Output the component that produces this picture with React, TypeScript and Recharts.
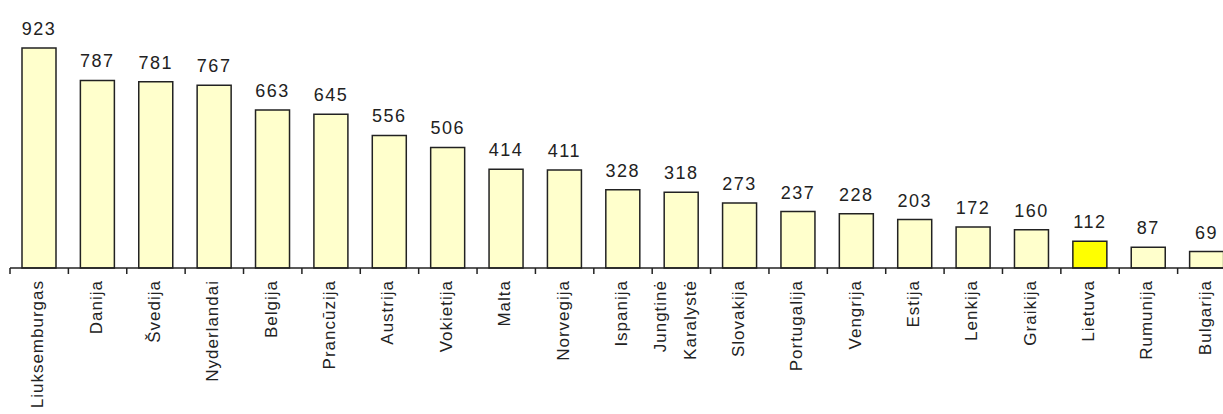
import { BarChart, Bar, XAxis, YAxis, Cell, LabelList } from "recharts";

const countries = [
  "Liuksemburgas",
  "Danija",
  "Švedija",
  "Nyderlandai",
  "Belgija",
  "Prancūzija",
  "Austrija",
  "Vokietija",
  "Malta",
  "Norvegija",
  "Ispanija",
  "Jungtinė\nKaralystė",
  "Slovakija",
  "Portugalija",
  "Vengrija",
  "Estija",
  "Lenkija",
  "Graikija",
  "Lietuva",
  "Rumunija",
  "Bulgarija",
];
const values = [923, 787, 781, 767, 663, 645, 556, 506, 414, 411, 328, 318, 273, 237, 228, 203, 172, 160, 112, 87, 69];
const highlighted = "Lietuva";

const data = countries.map((name, i) => ({ name, value: values[i] }));

const FONT = "'Liberation Sans', Arial, sans-serif";
const BAND = 1226 / countries.length;

const CountryTick = (props: any) => {
  const { x, y, payload } = props;
  const lines = String(payload.value).split("\n");
  const offsets = lines.length > 1 ? [-15, 15] : [4];
  return (
    <g transform={`translate(${x},${y})`}>
      <line x1={-BAND / 2} y1={0} x2={-BAND / 2} y2={6} stroke="#222" strokeWidth={1.5} />
      {lines.map((line, i) => (
        <text
          key={line}
          transform="rotate(-90)"
          x={-12}
          y={offsets[i]}
          textAnchor="end"
          fill="#222"
          fontSize={17}
          letterSpacing={1}
          fontFamily={FONT}
        >
          {line}
        </text>
      ))}
    </g>
  );
};

export default function App() {
  return (
    <div style={{ position: "absolute", left: 0, top: 0, width: 1223, height: 414, overflow: "hidden", background: "#fff" }}>
      <BarChart width={1240} height={414} data={data} margin={{ top: 48, right: 4, left: 10, bottom: 0 }}>
        <XAxis
          dataKey="name"
          interval={0}
          height={146}
          tickSize={0}
          tickMargin={0}
          tick={<CountryTick />}
          axisLine={{ stroke: "#222", strokeWidth: 1.5 }}
        />
        <YAxis hide domain={[0, 923]} />
        <Bar dataKey="value" barSize={34} stroke="#222" strokeWidth={1.5} isAnimationActive={false}>
          {data.map((d) => (
            <Cell key={d.name} fill={d.name === highlighted ? "#FFFF00" : "#FFFFCC"} />
          ))}
          <LabelList
            dataKey="value"
            position="top"
            offset={13}
            fill="#222"
            fontSize={18}
            letterSpacing={1.5}
            fontFamily={FONT}
          />
        </Bar>
      </BarChart>
    </div>
  );
}
